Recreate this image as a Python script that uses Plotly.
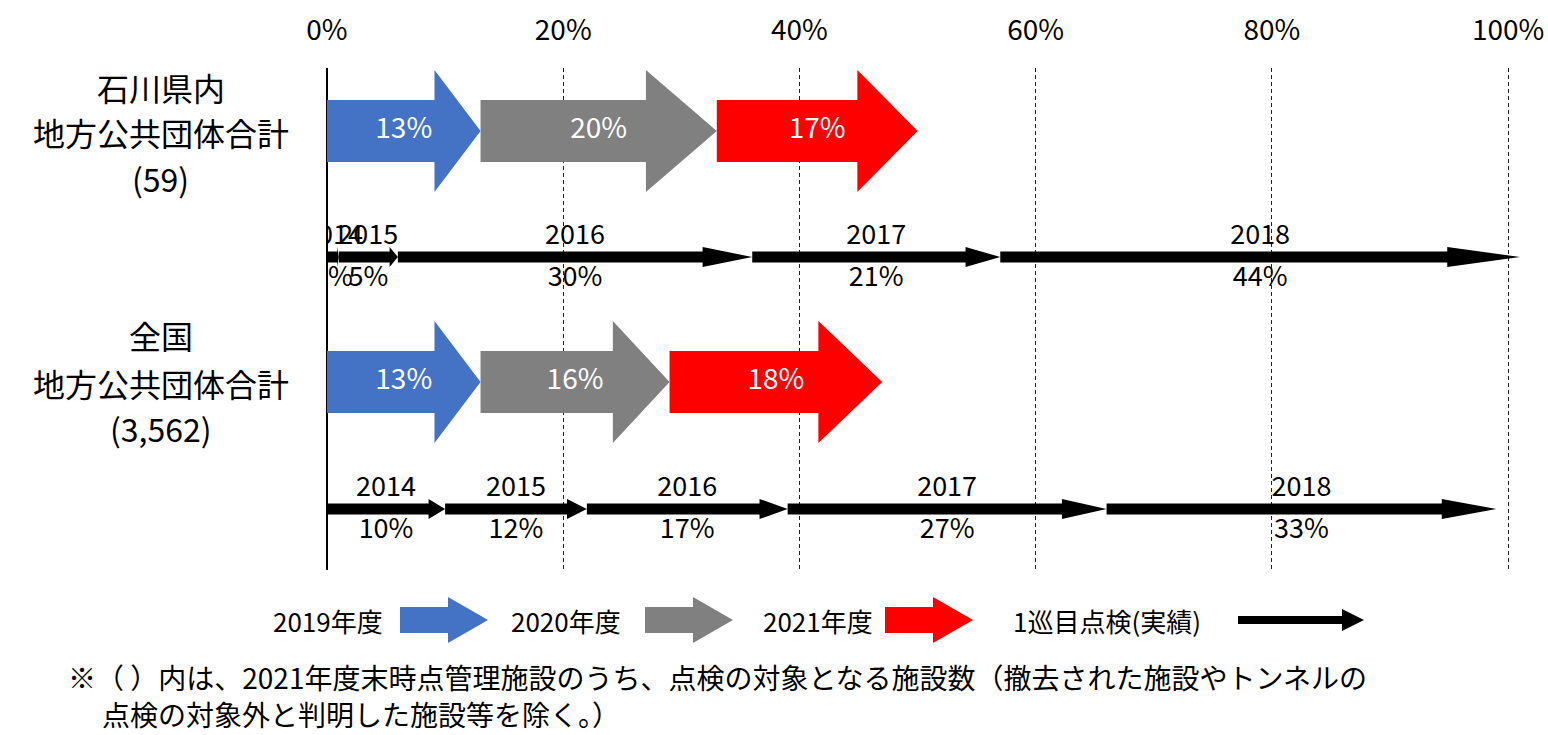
import plotly.graph_objects as go

# ---------------- data ----------------
tick_values = [0, 20, 40, 60, 80, 100]
tick_labels = ["0%", "20%", "40%", "60%", "80%", "100%"]

plan_years = ["2019年度", "2020年度", "2021年度"]
plan_colors = ["#4472C4", "#808080", "#FF0000"]
ishikawa_plan = [13, 20, 17]
national_plan = [13, 16, 18]

first_years = ["2014", "2015", "2016", "2017", "2018"]
ishikawa_first = [1, 5, 30, 21, 44]
national_first = [10, 12, 17, 27, 33]

group_labels = [["石川県内", "地方公共団体合計", "(59)"],
                ["全国", "地方公共団体合計", "(3,562)"]]
legend_labels = ["2019年度", "2020年度", "2021年度", "1巡目点検(実績)"]
footnote = ["※（ ）内は、2021年度末時点管理施設のうち、点検の対象となる施設数（撤去された施設やトンネルの",
            "点検の対象外と判明した施設等を除く。）"]

FONT = "Noto Sans CJK JP"

# ---------------- layout constants (page pixels; body margin removed) ----------------
W, H = 1548, 735
ML, MR, MT, MB = 327, 28, 68, 165
PW, PH = W - ML - MR, H - MT - MB

# row centres in y units (pixels measured from plot top)
ROW_BIG = [63, 314]
ROW_LINE = [189, 441]


def arrow_pts(x0, x1, yc, hb, hh, hl):
    xs = [x0, x1 - hl, x1 - hl, x1, x1 - hl, x1 - hl, x0, x0]
    ys = [yc - hb, yc - hb, yc - hh, yc, yc + hh, yc + hb, yc + hb, yc - hb]
    return xs, ys


def px_to_paper(px, py):
    """page pixel -> paper coordinates"""
    return (px - ML) / PW, (MT + PH - py) / PH


fig = go.Figure()

# big plan arrows
for r, vals in enumerate([ishikawa_plan, national_plan]):
    start = 0
    cx, cy, ct = [], [], []
    for i, v in enumerate(vals):
        end = start + v
        xs, ys = arrow_pts(start, end, ROW_BIG[r], 31, 61, 0.3 * v)
        fig.add_trace(go.Scatter(x=xs, y=ys, mode="lines", fill="toself",
                                 fillcolor=plan_colors[i], line=dict(width=0),
                                 hoverinfo="skip", showlegend=False))
        cx.append((start + end) / 2)
        cy.append(ROW_BIG[r])
        ct.append(f"{v}%")
        start = end
    fig.add_trace(go.Scatter(x=cx, y=cy, text=ct, mode="text",
                             textfont=dict(family=FONT, size=28, color="white"),
                             hoverinfo="skip", showlegend=False))

# first-cycle line arrows
for r, vals in enumerate([ishikawa_first, national_first]):
    start = 0
    cx, yr_y, pc_y, yr_t, pc_t = [], [], [], [], []
    for i, v in enumerate(vals):
        end = start + v
        xs, ys = arrow_pts(start, end, ROW_LINE[r], 5.5, 10, 0.14 * v)
        fig.add_trace(go.Scatter(x=xs, y=ys, mode="lines", fill="toself",
                                 fillcolor="black", line=dict(width=0),
                                 hoverinfo="skip", showlegend=False))
        cx.append((start + end) / 2)
        yr_y.append(ROW_LINE[r] - 20)
        pc_y.append(ROW_LINE[r] + 22)
        yr_t.append(first_years[i])
        pc_t.append(f"{v}%")
        start = end
    fig.add_trace(go.Scatter(x=cx + cx, y=yr_y + pc_y, text=yr_t + pc_t, mode="text",
                             textfont=dict(family=FONT, size=27, color="black"),
                             hoverinfo="skip", showlegend=False))

# ---------------- annotations ----------------
annotations = []
label_ys = [[87, 132, 178], [335, 383, 428]]   # page pixels
for g, lines in enumerate(group_labels):
    for k, t in enumerate(lines):
        xp, yp = px_to_paper(161, label_ys[g][k])
        annotations.append(dict(x=xp, y=yp, xref="paper", yref="paper",
                                text=t, showarrow=False, xanchor="center", yanchor="middle",
                                font=dict(family=FONT, size=32, color="black")))

# legend
legend_text_x = [328, 566, 818, 1107]
LEG_Y = 620
for t, x in zip(legend_labels, legend_text_x):
    xp, yp = px_to_paper(x, LEG_Y)
    annotations.append(dict(x=xp, y=yp, xref="paper", yref="paper", text=t,
                            showarrow=False, xanchor="center", yanchor="middle",
                            font=dict(family=FONT, size=26, color="black")))

shapes = []
legend_arrows = [(400, 488, 13, 23, 40, plan_colors[0]),
                 (645, 733, 13, 23, 40, plan_colors[1]),
                 (885, 973, 13, 23, 40, plan_colors[2]),
                 (1238, 1364, 4, 11, 22, "black")]
for x0, x1, hb, hh, hl, col in legend_arrows:
    xs = [x0, x1 - hl, x1 - hl, x1, x1 - hl, x1 - hl, x0]
    ys = [LEG_Y - hb, LEG_Y - hb, LEG_Y - hh, LEG_Y, LEG_Y + hh, LEG_Y + hb, LEG_Y + hb]
    pts = [px_to_paper(a, b) for a, b in zip(xs, ys)]
    path = "M " + " L ".join(f"{a:.5f},{b:.5f}" for a, b in pts) + " Z"
    shapes.append(dict(type="path", path=path, xref="paper", yref="paper",
                       fillcolor=col, line=dict(width=0), layer="above"))

# footnote
for (t, x, y) in [(footnote[0], 66, 677), (footnote[1], 100, 714)]:
    xp, yp = px_to_paper(x, y)
    annotations.append(dict(x=xp, y=yp, xref="paper", yref="paper", text=t,
                            showarrow=False, xanchor="left", yanchor="middle",
                            font=dict(family=FONT, size=28, color="black")))

fig.update_layout(
    width=W, height=H,
    margin=dict(l=ML, r=MR, t=MT, b=MB, autoexpand=False),
    paper_bgcolor="white", plot_bgcolor="white",
    showlegend=False,
    annotations=annotations,
    shapes=shapes,
    xaxis=dict(range=[0, 101], side="top", tickvals=tick_values, ticktext=tick_labels,
               tickfont=dict(family=FONT, size=28, color="black"),
               ticks="", ticklabelstandoff=21, automargin=False,
               showgrid=True, gridcolor="#222", gridwidth=1.2, griddash="4px,3px",
               zeroline=True, zerolinecolor="black", zerolinewidth=1.5,
               showline=False, fixedrange=True),
    yaxis=dict(range=[PH, 0], visible=False, showgrid=False, zeroline=False,
               automargin=False, fixedrange=True),
)

fig.write_html("out.html", config={"displayModeBar": False},
               post_script="document.body.style.margin='0';document.body.style.overflow='hidden';")
